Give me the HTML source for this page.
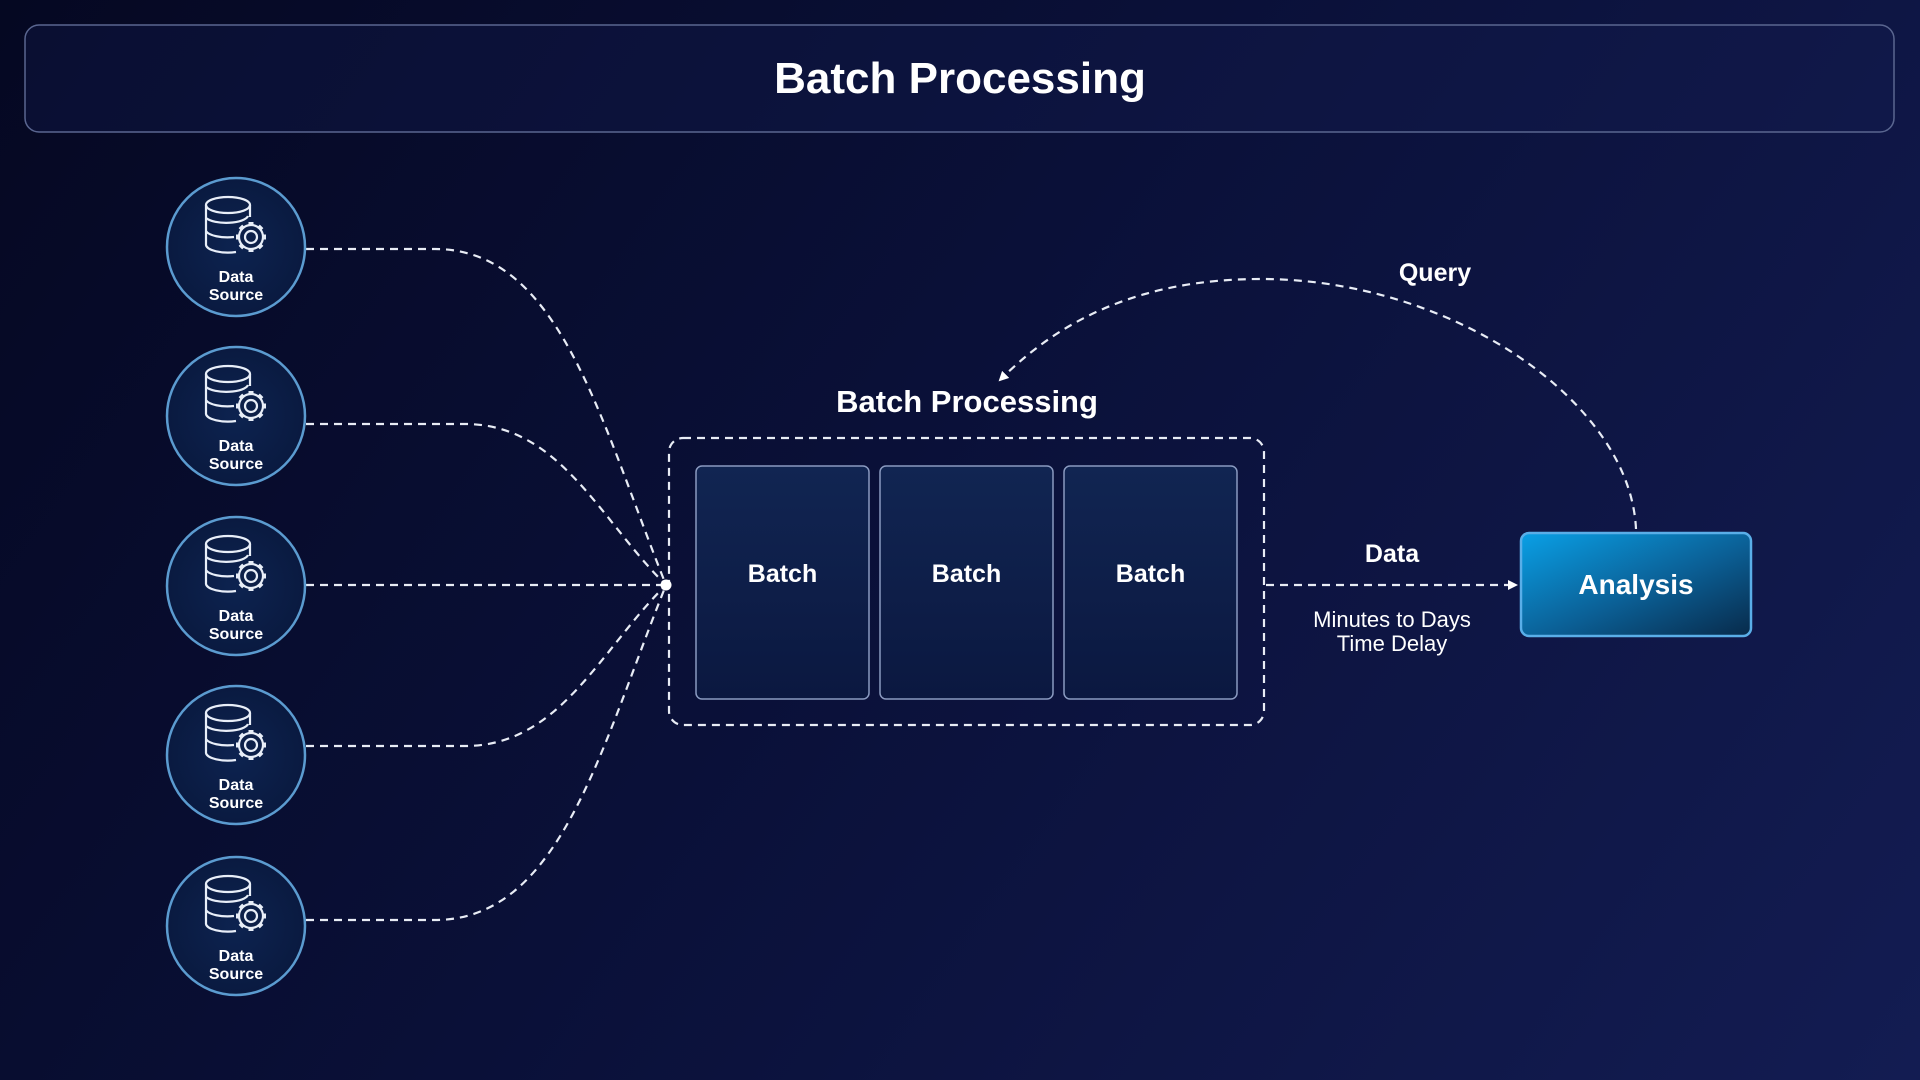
<!DOCTYPE html>
<html><head><meta charset="utf-8"><style>
html,body{margin:0;padding:0;width:1920px;height:1080px;overflow:hidden;}
body{background:linear-gradient(125deg,#050822 0%,#0a1038 45%,#131c52 100%);font-family:"Liberation Sans",sans-serif;position:relative;}
.t{position:absolute;color:#fff;font-weight:bold;text-align:center;}
</style></head><body>
<svg width="1920" height="1080" style="position:absolute;left:0;top:0">
<defs>
<linearGradient id="ag" x1="0" y1="0" x2="1" y2="1"><stop offset="0" stop-color="#0aa0e6"/><stop offset="0.55" stop-color="#0b5f95"/><stop offset="1" stop-color="#082a4a"/></linearGradient>
<radialGradient id="cg" cx="0.5" cy="0.5" r="0.5"><stop offset="0" stop-color="#0d2350"/><stop offset="1" stop-color="#0a1a40"/></radialGradient>
<linearGradient id="bg" x1="0" y1="0" x2="0" y2="1"><stop offset="0" stop-color="#112552"/><stop offset="1" stop-color="#0b1840"/></linearGradient>
<g id="ds">
<circle r="69" fill="url(#cg)" stroke="#5b9bd0" stroke-width="2.5"/>
<g fill="none" stroke="#e8eef8" stroke-width="2.2">
<ellipse cx="-8" cy="-42" rx="22" ry="8"/>
<path d="M-30,-42 V-2 A22,8 0 0 0 0,5 M-30,-29 A22,8 0 0 0 12,-31 M-30,-16 A22,8 0 0 0 -2,-10 M14,-42 V-30"/>
<circle cx="15" cy="-10" r="6"/>
<circle cx="15" cy="-10" r="12" fill="#0c1f48"/>
<circle cx="15" cy="-10" r="6"/>
<g stroke-width="5" stroke-linecap="butt">
<path d="M15,-25 V-21 M15,1 V5 M0,-10 H4 M26,-10 H30 M4.4,-20.6 L7.2,-17.8 M22.8,-2.2 L25.6,0.6 M25.6,-20.6 L22.8,-17.8 M7.2,-2.2 L4.4,0.6"/>
</g>
</g>
<text y="35" text-anchor="middle" fill="#fff" font-family="Liberation Sans" font-weight="bold" font-size="16">Data</text>
<text y="53" text-anchor="middle" fill="#fff" font-family="Liberation Sans" font-weight="bold" font-size="16">Source</text>
</g>
<marker id="ar" markerWidth="10" markerHeight="10" refX="8" refY="5" orient="auto" markerUnits="userSpaceOnUse"><path d="M0,0 L10,5 L0,10z" fill="#fff"/></marker>
</defs>
<rect x="25" y="25" width="1869" height="107" rx="14" fill="rgba(20,30,80,0.35)" stroke="#5a6690" stroke-width="1.5"/>
<g fill="none" stroke="#e8ecf5" stroke-width="2.2" stroke-dasharray="8 6">
<path d="M306,249 H435 C560,249 600,420 666,585"/>
<path d="M306,424 H465 C560,424 600,520 666,585"/>
<path d="M306,585 H666"/>
<path d="M306,746 H465 C560,746 600,650 666,585"/>
<path d="M306,920 H435 C560,920 600,750 666,585"/>
<path d="M1266,585 H1516" marker-end="url(#ar)"/>
<path d="M1636,529 C1630,400 1450,279 1261,279 C1140,279 1060,320 1000,380" marker-end="url(#ar)"/>
<rect x="669" y="438" width="595" height="287" rx="14"/>
</g>
<circle cx="666" cy="585" r="5.5" fill="#fff"/>
<use href="#ds" x="236" y="247"/>
<use href="#ds" x="236" y="416"/>
<use href="#ds" x="236" y="586"/>
<use href="#ds" x="236" y="755"/>
<use href="#ds" x="236" y="926"/>
<g fill="url(#bg)" stroke="#8a9ac0" stroke-width="1.5">
<rect x="696" y="466" width="173" height="233" rx="6"/>
<rect x="880" y="466" width="173" height="233" rx="6"/>
<rect x="1064" y="466" width="173" height="233" rx="6"/>
</g>
<rect x="1521" y="533" width="230" height="103" rx="8" fill="url(#ag)" stroke="#5aaee8" stroke-width="2.5"/>
</svg>
<div class="t" style="left:0;width:1920px;top:54px;font-size:44px;">Batch Processing</div>
<div class="t" style="left:767px;width:400px;top:384px;font-size:31px;">Batch Processing</div>
<div class="t" style="left:696px;width:173px;top:560px;font-size:25px;">Batch</div>
<div class="t" style="left:880px;width:173px;top:560px;font-size:25px;">Batch</div>
<div class="t" style="left:1064px;width:173px;top:560px;font-size:25px;">Batch</div>
<div class="t" style="left:1292px;width:200px;top:540px;font-size:25px;">Data</div>
<div class="t" style="left:1272px;width:240px;top:608px;font-size:22px;font-weight:normal;line-height:24px;">Minutes to Days<br>Time Delay</div>
<div class="t" style="left:1521px;width:230px;top:569px;font-size:28px;">Analysis</div>
<div class="t" style="left:1365px;width:140px;top:259px;font-size:25px;">Query</div>
</body></html>
